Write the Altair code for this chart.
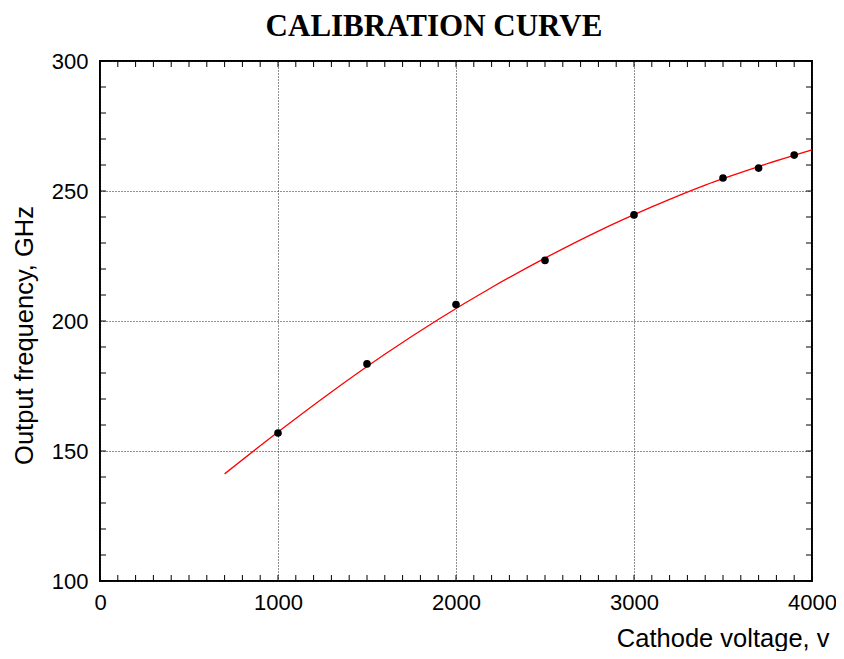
import altair as alt
import pandas as pd

# measured points
meas_v = [1000, 1500, 2000, 2500, 3000, 3500, 3700, 3900]
meas_f = [156.9, 183.5, 206.3, 223.3, 240.8, 255.0, 258.8, 263.8]
# fitted calibration curve
fit_v = [700, 1000, 1300, 1600, 1900, 2200, 2500, 2800, 3100, 3400, 3700, 4000]
fit_f = [141.2, 157.3, 172.7, 187.2, 200.6, 212.9, 224.2, 234.6, 243.9, 252.3, 259.4, 265.8]
# axis ticks
x_major = [0, 1000, 2000, 3000, 4000]
y_major = [100, 150, 200, 250, 300]
x_minor = list(range(0, 4001, 100))
y_minor = list(range(100, 301, 10))

W, H = 712, 520
FONT = "Liberation Sans"

meas_df = pd.DataFrame({"v": meas_v, "f": meas_f})
fit_df = pd.DataFrame({"v": fit_v, "f": fit_f})
xt_df = pd.DataFrame({"v": x_minor})
yt_df = pd.DataFrame({"f": y_minor})

xs = alt.Scale(domain=[0, 4000], nice=False, zero=False)
ys = alt.Scale(domain=[100, 300], nice=False, zero=False)

common_axis = dict(
    grid=True, gridColor="#222222", gridDash=[1, 2], gridWidth=1,
    ticks=False, domain=False, labelFont=FONT, labelFontSize=22,
    labelColor="black", labelFlush=False, titleFont=FONT,
    titleFontSize=25.5, titleFontWeight="normal", titleColor="black",
)

x_axis = alt.Axis(values=x_major, format="d", title="Cathode voltage, v",
                  labelPadding=11, titleX=729, titleY=65, titleAlign="right",
                  titleBaseline="alphabetic", titleAnchor="end", **common_axis)
y_axis = alt.Axis(values=y_major, format="d", title="Output frequency, GHz",
                  labelPadding=12, titleX=-76, titleY=274, titleAngle=-90,
                  titleAlign="center", titleBaseline="middle", **common_axis)

X = alt.X("v:Q", scale=xs, axis=x_axis)
Y = alt.Y("f:Q", scale=ys, axis=y_axis)

fit = alt.Chart(fit_df).mark_line(color="#ff0000", strokeWidth=1.3, interpolate="monotone").encode(
    x=X, y=Y)

pts = alt.Chart(meas_df).mark_circle(size=58, color="black", opacity=1).encode(
    x=X, y=Y)

tick_len = 6
top_ticks = alt.Chart(xt_df).mark_rule(color="black", strokeWidth=1).encode(
    x=X, y=alt.value(0), y2=alt.value(tick_len))
bot_ticks = alt.Chart(xt_df).mark_rule(color="black", strokeWidth=1).encode(
    x=X, y=alt.value(H - tick_len), y2=alt.value(H))
left_ticks = alt.Chart(yt_df).mark_rule(color="black", strokeWidth=1).encode(
    y=Y, x=alt.value(0), x2=alt.value(tick_len))
right_ticks = alt.Chart(yt_df).mark_rule(color="black", strokeWidth=1).encode(
    y=Y, x=alt.value(W - tick_len), x2=alt.value(W))

chart = alt.layer(top_ticks, bot_ticks, left_ticks, right_ticks, fit, pts).properties(
    width=W, height=H,
    title=alt.TitleParams("CALIBRATION CURVE", font="Liberation Serif", fontSize=31,
                          fontWeight="bold", color="black", frame="group",
                          anchor="middle", dx=-22, offset=7),
    autosize=alt.AutoSizeParams(type="none"),
    padding={"left": 92, "top": 53, "right": 24, "bottom": 70},
).configure(background="white").configure_view(stroke="black", strokeWidth=2)

chart.save("out.html", embed_options={"renderer": "svg", "actions": False})
